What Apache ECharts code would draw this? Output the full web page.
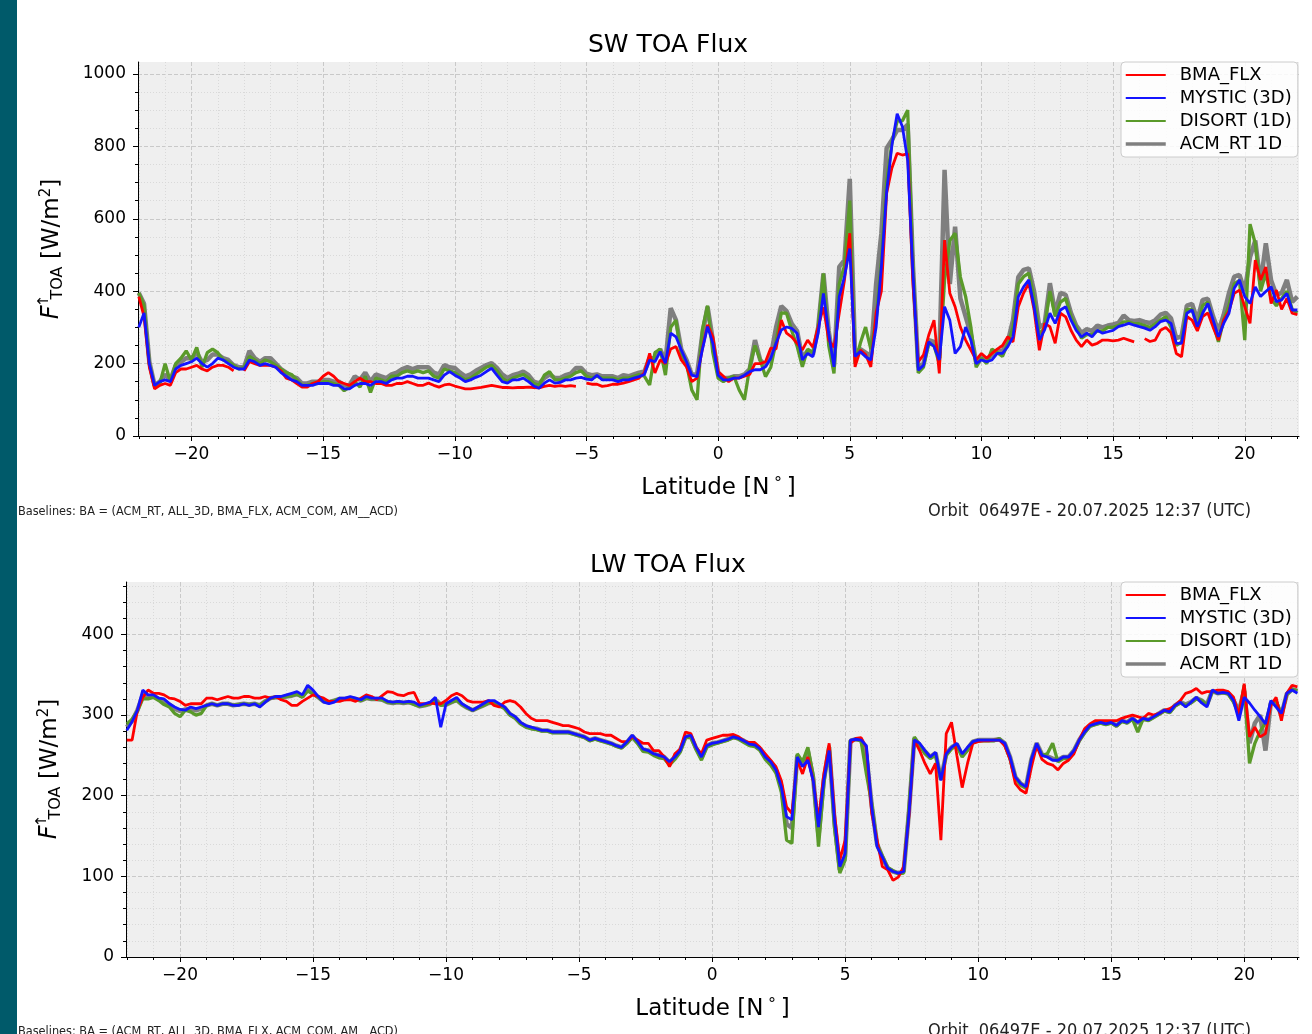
<!DOCTYPE html>
<html>
<head>
<meta charset="utf-8">
<script src="https://cdn.jsdelivr.net/npm/echarts/dist/echarts.min.js"></script>
<style>
html,body{margin:0;padding:0;background:#fff;}
#chart{width:1312px;height:1034px;}
</style>
</head>
<body>
<div id="chart"></div>
<script>
// Latitude samples [deg N]
const lat = [
-22,-21.8,-21.6,-21.4,-21.2,-21,-20.8,-20.6,-20.4,-20.2,
-20,-19.8,-19.6,-19.4,-19.2,-19,-18.8,-18.6,-18.4,-18.2,
-18,-17.8,-17.6,-17.4,-17.2,-17,-16.8,-16.6,-16.4,-16.2,
-16,-15.8,-15.6,-15.4,-15.2,-15,-14.8,-14.6,-14.4,-14.2,
-14,-13.8,-13.6,-13.4,-13.2,-13,-12.8,-12.6,-12.4,-12.2,
-12,-11.8,-11.6,-11.4,-11.2,-11,-10.8,-10.6,-10.4,-10.2,
-10,-9.8,-9.6,-9.4,-9.2,-9,-8.8,-8.6,-8.4,-8.2,
-8,-7.8,-7.6,-7.4,-7.2,-7,-6.8,-6.6,-6.4,-6.2,
-6,-5.8,-5.6,-5.4,-5.2,-5,-4.8,-4.6,-4.4,-4.2,
-4,-3.8,-3.6,-3.4,-3.2,-3,-2.8,-2.6,-2.4,-2.2,
-2,-1.8,-1.6,-1.4,-1.2,-1,-0.8,-0.6,-0.4,-0.2,
0,0.2,0.4,0.6,0.8,1,1.2,1.4,1.6,1.8,
2,2.2,2.4,2.6,2.8,3,3.2,3.4,3.6,3.8,
4,4.2,4.4,4.6,4.8,5,5.2,5.4,5.6,5.8,
6,6.2,6.4,6.6,6.8,7,7.2,7.4,7.6,7.8,
8,8.2,8.4,8.6,8.8,9,9.2,9.4,9.6,9.8,
10,10.2,10.4,10.6,10.8,11,11.2,11.4,11.6,11.8,
12,12.2,12.4,12.6,12.8,13,13.2,13.4,13.6,13.8,
14,14.2,14.4,14.6,14.8,15,15.2,15.4,15.6,15.8,
16,16.2,16.4,16.6,16.8,17,17.2,17.4,17.6,17.8,
18,18.2,18.4,18.6,18.8,19,19.2,19.4,19.6,19.8,
20,20.2,20.4,20.6,20.8,21,21.2,21.4,21.6,21.8,
22];

// ---- SW TOA flux [W/m2] ----
const swMystic = [
300,340,200,140,150,155,150,185,195,200,
205,215,200,190,200,215,210,200,190,185,
185,210,205,195,200,195,190,175,165,155,
150,140,140,140,145,145,145,140,140,130,
130,140,145,145,140,150,150,145,155,160,
160,165,165,160,160,160,155,150,168,178,
168,160,150,155,162,168,178,187,168,150,
146,155,155,160,150,138,132,146,155,146,
148,155,155,160,162,157,155,168,155,155,
155,150,155,155,160,164,170,210,205,233,
201,284,274,238,205,168,164,238,302,256,
168,155,155,160,160,168,178,183,183,191,
215,256,293,301,297,284,210,228,219,284,
394,284,191,385,440,518,220,233,219,210,
300,467,674,803,890,854,760,450,182,195,
260,247,210,357,320,228,247,301,265,200,
210,205,210,228,228,247,274,385,412,431,
357,265,293,339,311,348,357,320,292,274,
284,274,292,284,288,292,302,306,311,306,
302,298,292,302,316,320,311,256,256,339,
348,302,339,366,320,274,311,339,408,431,
385,366,412,385,399,412,371,376,394,348,
348];
const swBma = [
385,330,190,130,140,145,140,175,185,185,
190,195,185,180,190,195,195,190,180,null,
180,205,200,195,195,195,190,180,160,155,
145,135,135,145,150,165,175,165,150,145,
140,150,160,150,150,145,145,140,140,145,
145,150,145,140,140,146,140,135,141,143,
138,134,130,130,132,134,137,140,137,134,
134,133,134,134,135,134,133,137,140,137,
139,137,139,137,null,146,143,143,137,139,
143,143,146,150,155,160,175,228,174,210,
200,240,247,210,191,150,160,240,307,274,
178,165,150,160,160,165,170,200,200,205,
243,240,320,284,273,256,238,265,245,301,
356,265,245,339,431,560,191,237,225,191,
340,400,670,740,781,776,780,420,205,224,
279,320,173,541,394,357,301,265,237,210,
228,215,228,240,250,274,260,357,395,422,
348,237,311,302,256,339,329,292,265,247,
265,251,256,265,265,263,265,270,265,260,
null,269,261,265,292,300,285,228,219,330,
320,290,330,340,300,265,320,345,394,403,
357,311,486,431,467,366,403,350,380,339,
335];
const swDisort = [
395,360,200,135,145,200,150,200,215,235,
210,245,190,230,240,230,210,205,195,185,
190,220,210,200,210,205,195,185,175,170,
155,140,140,145,145,150,150,145,140,125,
135,150,135,165,120,160,155,150,165,165,
175,180,175,180,175,180,165,160,185,180,
175,165,155,160,170,180,190,195,180,160,
150,160,165,170,160,145,140,168,178,155,
155,160,165,175,180,165,160,165,160,160,
160,155,160,160,165,170,165,141,230,240,
168,300,320,225,200,127,100,293,360,230,
160,150,160,165,127,100,190,250,210,164,
190,260,340,339,290,248,191,240,230,300,
449,250,173,420,470,650,200,256,301,240,
320,480,700,810,870,871,900,460,174,190,
255,250,200,430,540,560,439,385,300,190,
215,200,240,230,220,255,300,420,440,450,
380,280,300,400,330,370,380,330,300,270,
280,280,290,290,300,300,305,315,315,310,
310,305,300,310,320,330,300,250,260,350,
350,300,360,370,310,260,320,360,420,430,
265,585,532,400,450,380,360,380,400,350,
340];
const swAcm = [
395,365,205,140,150,170,155,195,205,215,
215,230,205,210,225,225,215,210,195,190,
190,235,215,205,215,215,200,185,175,165,
160,145,145,150,150,155,155,150,150,140,
140,165,155,175,150,170,165,160,170,175,
185,190,185,190,190,190,175,170,196,190,
188,175,165,170,180,188,196,201,188,170,
160,168,172,178,168,150,145,160,170,160,
160,168,172,188,188,172,168,170,165,165,
165,160,168,165,170,175,178,215,215,240,
205,353,320,240,210,170,170,280,357,265,
175,160,160,165,165,170,185,265,210,195,
220,300,359,345,310,290,215,235,225,300,
449,290,195,467,486,710,230,240,230,220,
420,560,795,818,845,845,860,470,190,200,
265,260,215,735,420,578,380,330,280,205,
220,210,225,235,235,260,320,439,459,463,
400,300,310,422,340,395,390,340,305,285,
295,290,305,300,305,308,312,333,320,318,
320,315,312,320,335,340,325,270,275,360,
365,320,376,379,330,290,335,395,440,445,
400,494,540,420,532,430,390,395,431,370,
385];

// ---- LW TOA flux [W/m2] ----
const lwMystic = [
281,292,306,331,325,325,321,320,314,310,
307,306,310,308,310,312,314,312,314,314,
312,312,314,312,314,310,316,321,323,323,
325,327,329,325,337,331,323,316,314,316,
321,321,323,321,319,323,321,321,321,317,
316,317,316,317,316,312,314,316,322,285,
314,318,322,314,310,306,310,314,318,318,
314,310,302,298,291,287,285,283,281,281,
279,279,279,279,277,275,273,269,271,269,
267,265,262,260,267,275,267,258,256,252,
250,248,242,248,256,273,275,260,248,262,
265,266,268,270,273,271,268,264,263,258,
248,242,232,211,174,170,248,236,244,219,
161,219,256,170,112,128,269,270,269,262,
186,137,124,110,106,104,106,178,269,265,
256,248,254,219,252,260,265,252,260,267,
269,269,269,269,269,265,248,223,215,211,
245,265,250,248,244,244,248,248,256,269,
279,287,289,291,289,291,287,293,291,296,
291,296,294,298,302,306,304,312,316,310,
316,322,315,310,331,327,328,327,318,293,
322,315,306,298,289,318,310,302,327,331,
327];
const lwBma = [
269,269,306,322,331,327,327,325,321,320,
317,312,314,314,314,321,321,319,321,323,
321,321,323,323,321,321,323,321,323,319,
317,312,312,317,321,325,323,321,317,317,
317,319,319,317,321,325,323,319,324,329,
328,325,324,327,328,314,314,315,314,314,
318,324,327,324,318,316,316,316,318,312,
310,316,318,316,310,302,296,293,293,293,
291,289,287,287,285,283,279,277,277,277,
275,275,271,267,267,273,269,265,265,256,
256,248,236,252,258,279,277,260,252,269,
271,273,275,275,276,273,268,266,266,260,
252,244,236,219,186,178,244,227,248,219,
170,227,265,178,120,145,265,271,272,260,
178,145,112,108,95,99,112,175,269,256,
240,227,240,145,277,291,250,210,240,265,
267,268,268,269,269,262,245,215,207,203,
235,262,245,240,238,232,240,244,252,269,
283,289,293,293,293,293,293,296,298,300,
298,296,302,300,302,306,308,312,318,327,
329,333,327,329,329,331,331,329,322,300,
339,273,285,273,277,312,322,293,327,337,
335];
const lwDisort = [
289,295,305,320,320,322,318,313,310,302,
298,306,304,300,302,312,314,312,314,314,
312,313,314,313,314,312,317,321,322,322,
323,324,326,322,330,326,322,317,316,318,
320,320,321,320,318,321,320,320,319,316,
315,316,315,316,313,311,312,314,318,312,
313,316,318,313,309,306,309,312,315,316,
312,308,300,296,289,285,283,282,280,280,
278,278,278,278,276,274,272,268,270,268,
266,264,261,259,265,272,265,255,254,250,
247,246,238,245,254,272,272,257,244,260,
263,265,267,269,272,270,266,262,261,256,
245,238,228,205,145,141,252,242,260,225,
137,215,262,160,104,120,268,270,268,227,
190,140,125,111,107,103,104,185,273,262,
252,246,250,220,250,258,262,248,256,266,
268,268,268,268,271,263,246,221,213,209,
243,263,250,252,265,242,246,246,254,268,
278,286,288,290,288,290,286,292,290,295,
279,295,293,297,301,305,303,311,315,312,
315,320,318,312,330,327,328,326,316,300,
337,240,265,280,290,315,318,300,325,332,
330];
const lwAcm = [
285,293,306,325,323,324,320,318,313,308,
305,307,308,306,308,312,314,312,314,314,
312,313,314,313,314,312,317,321,322,322,
323,324,326,323,332,327,322,317,316,318,
320,320,321,320,318,321,320,320,319,316,
315,316,315,316,314,311,312,314,319,313,
313,316,319,313,309,306,309,312,315,316,
312,309,301,297,290,286,284,283,281,281,
279,279,279,279,277,275,273,269,271,269,
267,265,262,260,266,274,266,257,256,252,
250,248,241,248,256,273,274,259,247,262,
265,266,268,270,273,271,268,264,263,258,
248,242,232,212,165,160,250,240,255,222,
150,220,260,168,108,125,268,270,269,250,
188,140,124,110,106,104,106,180,271,263,
255,248,253,220,252,260,264,250,258,267,
269,269,269,269,270,265,248,223,215,211,
245,265,251,249,246,244,248,248,256,269,
279,287,289,291,289,291,287,293,291,296,
290,296,294,298,302,306,304,312,316,313,
316,321,318,313,330,327,328,327,318,305,
330,265,290,300,256,315,315,300,326,332,
330];

// legend names & tick values
const seriesNames = ['BMA_FLX', 'MYSTIC (3D)', 'DISORT (1D)', 'ACM_RT 1D'];
const xMajorTicks = [-20,-15,-10,-5,0,5,10,15,20];
const xMinorTicks = [-22,-21,-19,-18,-17,-16,-14,-13,-12,-11,-9,-8,-7,-6,-4,-3,-2,-1,1,2,3,4,6,7,8,9,11,12,13,14,16,17,18,19,21,22];
const swMajorTicks = [0,200,400,600,800,1000];
const swMinorTicks = [50,100,150,250,300,350,450,500,550,650,700,750,850,900,950];
const lwMajorTicks = [0,100,200,300,400];
const lwMinorTicks = [20,40,60,80,120,140,160,180,220,240,260,280,320,340,360,380,420,440,460];

const FONT = '"DejaVu Sans", "Liberation Sans", sans-serif';
const COND = '"DejaVu Sans Condensed", "Liberation Sans Narrow", "DejaVu Sans", sans-serif';
const colors = {'BMA_FLX':'#ff0000','MYSTIC (3D)':'#1414ff','DISORT (1D)':'#5a9a2a','ACM_RT 1D':'#7f7f7f'};
const widths = {'BMA_FLX':2.8,'MYSTIC (3D)':2.8,'DISORT (1D)':3.3,'ACM_RT 1D':4.5};

const minus = v => String(v).replace('-', '\u2212');
const plain = v => String(v);
const XMIN = -22.03, XMAX = 22.06;

function majorX(grid){
  return {
    type:'value', gridIndex:grid, position:'bottom', min:XMIN, max:XMAX,
    axisLine:{show:true, onZero:false, lineStyle:{color:'#000', width:1}},
    axisTick:{show:true, length:5, inside:false, customValues:xMajorTicks, lineStyle:{color:'#000'}},
    axisLabel:{customValues:xMajorTicks, formatter:minus, fontSize:17, color:'#000', fontFamily:FONT, margin:10},
    splitLine:{show:true, lineStyle:{color:'#c9c9c9', type:[4,2], width:1}},
    name:'Latitude [N\u2009{s|\u00b0}\u2009]', nameLocation:'middle', nameGap:40,
    nameTextStyle:{fontSize:23, color:'#000', fontFamily:FONT, rich:{s:{fontSize:16, verticalAlign:'top', fontFamily:FONT, padding:[0,0,8,0]}}}
  };
}
function minorX(grid){
  return {
    type:'value', gridIndex:grid, position:'bottom', min:XMIN, max:XMAX,
    axisLine:{show:false, onZero:false},
    axisTick:{show:true, length:3, customValues:xMinorTicks, lineStyle:{color:'#000'}},
    axisLabel:{show:false, customValues:xMinorTicks},
    splitLine:{show:true, lineStyle:{color:'#d9d9d9', type:[1,2], width:1}}
  };
}
function majorY(grid, max, ticks){
  return {
    type:'value', gridIndex:grid, position:'left', min:0, max:max,
    axisLine:{show:true, onZero:false, lineStyle:{color:'#000', width:1}},
    axisTick:{show:true, length:5, customValues:ticks, lineStyle:{color:'#000'}},
    axisLabel:{customValues:ticks, formatter:plain, fontSize:17, color:'#000', fontFamily:FONT, margin:12},
    splitLine:{show:true, lineStyle:{color:'#c9c9c9', type:[4,2], width:1}}
  };
}
function minorY(grid, max, ticks){
  return {
    type:'value', gridIndex:grid, position:'left', min:0, max:max,
    axisLine:{show:false, onZero:false},
    axisTick:{show:true, length:3, customValues:ticks, lineStyle:{color:'#000'}},
    axisLabel:{show:false, customValues:ticks},
    splitLine:{show:true, lineStyle:{color:'#d9d9d9', type:[1,2], width:1}}
  };
}

function mk(name, values, gridIdx){
  return {
    name:name, type:'line', xAxisIndex:gridIdx*2, yAxisIndex:gridIdx*2,
    data: lat.map((x,i)=>[x, values[i]]),
    showSymbol:false, symbol:'none', connectNulls:false, animation:false,
    lineStyle:{color:colors[name], width:widths[name]}, itemStyle:{color:colors[name]},
    emphasis:{disabled:true}
  };
}

function legend(top){
  return {
    data:seriesNames.map(n=>({name:n, itemStyle:{opacity:0}, lineStyle:{color:colors[n], width:(n==='ACM_RT 1D'?3.5:2.2)}})),
    orient:'vertical', left:1121, top:top,
    itemWidth:40, itemHeight:18, itemGap:5,
    padding:[4,6,4,3],
    itemStyle:{opacity:0},
    backgroundColor:'rgba(255,255,255,0.85)', borderColor:'#cccccc', borderWidth:1, borderRadius:4,
    textStyle:{fontSize:18, color:'#000', fontFamily:FONT, padding:[0,0,0,9]},
    selectedMode:false
  };
}

function yLabel(x, y){
  return {
    type:'text', x:x, y:y, rotation:Math.PI/2, z:10,
    style:{
      text:'{f|F}{u|\u2191}{s|TOA}{n| [W/m}{p|2}{n|]}',
      align:'center', verticalAlign:'middle', fill:'#000',
      rich:{
        f:{font:'italic 24px '+FONT, lineHeight:34, verticalAlign:'middle', padding:[0,2,0,0]},
        u:{font:'15px '+FONT, verticalAlign:'top', width:3, padding:[2,0,0,1]},
        s:{font:'16px '+FONT, verticalAlign:'bottom', padding:[0,0,3,0]},
        n:{font:'23px '+FONT, verticalAlign:'middle'},
        p:{font:'15px '+FONT, verticalAlign:'top', padding:[4,0,0,0]}
      }
    }
  };
}

const baseline = 'Baselines: BA = (ACM_RT, ALL_3D, BMA_FLX, ACM_COM, AM__ACD)';
const orbit = 'Orbit  06497E - 20.07.2025 12:37 (UTC)';

const chart = echarts.init(document.getElementById('chart'), null, {renderer:'canvas'});
const order = ['ACM_RT 1D','DISORT (1D)','BMA_FLX','MYSTIC (3D)'];
const swData = {'BMA_FLX':swBma,'MYSTIC (3D)':swMystic,'DISORT (1D)':swDisort,'ACM_RT 1D':swAcm};
const lwData = {'BMA_FLX':lwBma,'MYSTIC (3D)':lwMystic,'DISORT (1D)':lwDisort,'ACM_RT 1D':lwAcm};

chart.setOption({
  animation:false,
  backgroundColor:'#ffffff',
  grid:[
    {left:138, right:13, top:62, height:374, show:true, backgroundColor:'#efefef', borderWidth:0},
    {left:126, right:13, top:582, height:375, show:true, backgroundColor:'#efefef', borderWidth:0}
  ],
  xAxis:[majorX(0), minorX(0), majorX(1), minorX(1)],
  yAxis:[majorY(0, 1033, swMajorTicks), minorY(0, 1033, swMinorTicks), majorY(1, 465, lwMajorTicks), minorY(1, 465, lwMinorTicks)],
  legend:[legend(62), legend(582)],
  series: order.map(n=>mk(n, swData[n], 0)).concat(order.map(n=>mk(n, lwData[n], 1))),
  graphic:[
    {type:'rect', x:0, y:0, shape:{x:0,y:0,width:17,height:1034}, style:{fill:'#005a6a'}, z:100},
    {type:'text', x:668, y:45, style:{text:'SW TOA Flux', font:'25px '+FONT, fill:'#000', align:'center', verticalAlign:'middle'}},
    {type:'text', x:668, y:565, style:{text:'LW TOA Flux', font:'25px '+FONT, fill:'#000', align:'center', verticalAlign:'middle'}},
    yLabel(52, 249),
    yLabel(50, 769),
    {type:'text', x:18, y:512, style:{text:baseline, font:'12.6px '+COND, fill:'#222', align:'left', verticalAlign:'middle'}},
    {type:'text', x:928, y:511, style:{text:orbit, font:'18px '+COND, fill:'#222', align:'left', verticalAlign:'middle'}},
    {type:'text', x:18, y:1032, style:{text:baseline, font:'12.6px '+COND, fill:'#222', align:'left', verticalAlign:'middle'}},
    {type:'text', x:928, y:1031, style:{text:orbit, font:'18px '+COND, fill:'#222', align:'left', verticalAlign:'middle'}}
  ]
});
</script>
</body>
</html>
